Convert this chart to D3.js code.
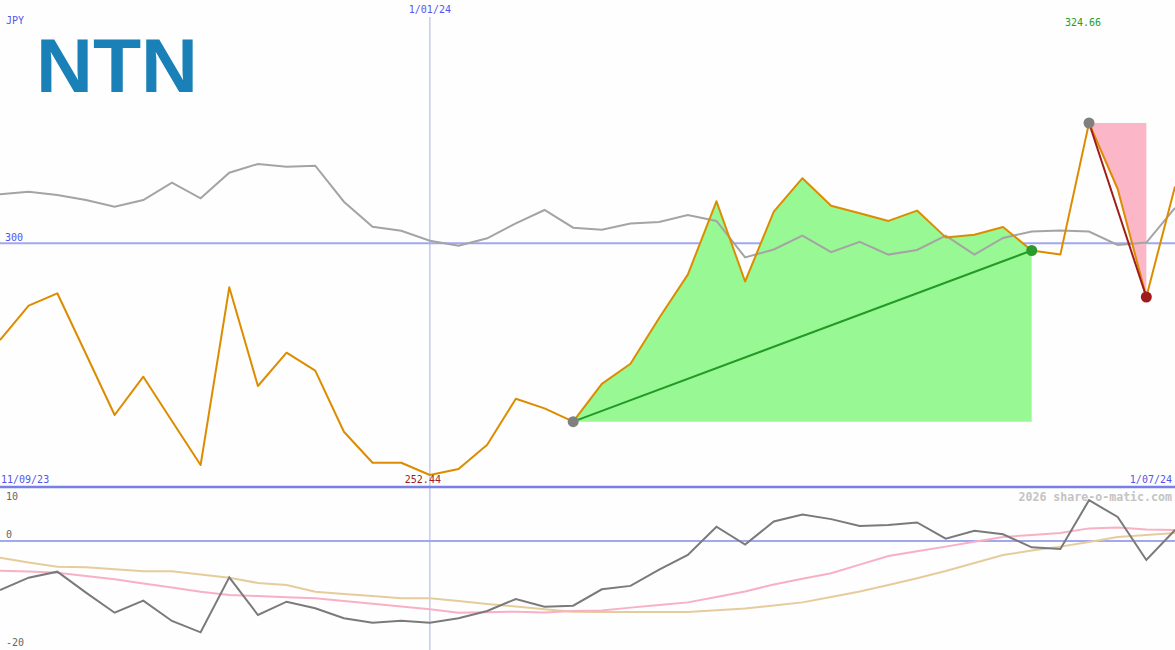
<!DOCTYPE html>
<html>
<head>
<meta charset="utf-8">
<script src="https://cdn.jsdelivr.net/npm/d3@7"></script>
<style>
  html, body { margin: 0; padding: 0; background: #fdfefd; }
  svg { display: block; }
  text { font-family: "DejaVu Sans Mono", "Liberation Mono", monospace; }
</style>
</head>
<body>
<svg id="chart" width="1175" height="650"></svg>
<script>
// ---- data ----
const dateLabels = ["11/09/23", "1/01/24", "1/07/24"];
const markerIndex = 15; // 1/01/24
const price = [280.14, 287.18, 289.72, 277.27, 264.75, 272.61, 263.52, 254.49, 290.95, 270.70,
  277.53, 273.84, 261.32, 254.96, 254.96, 252.44, 253.67, 258.66, 268.09, 266.12,
  263.38, 271.15, 275.26, 284.65, 293.56, 308.60, 292.14, 306.48, 313.33, 307.69,
  306.13, 304.57, 306.69, 301.19, 301.74, 303.32, 298.50, 297.66, 324.66, 311.12,
  288.96, 311.65];
const compare = [310.03, 310.56, 309.89, 308.86, 307.49, 308.86, 312.41, 309.21, 314.46, 316.25,
  315.69, 315.90, 308.51, 303.38, 302.56, 300.51, 299.49, 301.00, 304.08, 306.81,
  303.18, 302.75, 304.02, 304.35, 305.78, 304.57, 297.08, 298.71, 301.54, 298.15,
  300.27, 297.66, 298.60, 301.54, 297.66, 301.07, 302.38, 302.60, 302.38, 299.63,
  300.12, 307.22];
const osc = [-9.25, -6.92, -5.79, -9.75, -13.53, -11.26, -15.09, -17.23, -6.85, -13.96,
  -11.45, -12.70, -14.58, -15.42, -15.04, -15.42, -14.58, -13.21, -10.94, -12.40,
  -12.21, -9.11, -8.47, -5.42, -2.62, 2.70, -0.68, 3.68, 4.98, 4.13,
  2.83, 3.02, 3.49, 0.43, 1.92, 1.28, -1.19, -1.51, 7.70, 4.53,
  -3.58, 2.08];
const oscFast = [-5.60, -5.75, -5.98, -6.60, -7.23, -8.02, -8.79, -9.57, -10.19, -10.38,
  -10.60, -10.81, -11.32, -11.85, -12.36, -12.89, -13.53, -13.43, -13.34, -13.49,
  -13.20, -13.11, -12.57, -12.08, -11.58, -10.57, -9.51, -8.21, -7.13, -6.08,
  -4.45, -2.83, -1.94, -1.06, -0.15, 0.75, 1.13, 1.53, 2.38, 2.57,
  2.19, 2.08];
const oscSlow = [-3.15, -4.06, -4.87, -4.94, -5.32, -5.70, -5.70, -6.32, -6.94, -7.92,
  -8.30, -9.57, -10.00, -10.38, -10.81, -10.81, -11.32, -11.89, -12.36, -12.89,
  -13.34, -13.40, -13.40, -13.40, -13.40, -13.08, -12.75, -12.17, -11.58, -10.57,
  -9.51, -8.30, -7.04, -5.66, -4.15, -2.64, -1.79, -1.06, -0.19, 0.75,
  1.13, 1.51];
const priceRefLevel = 300;
const oscTicks = [10, 0, -20];
const riseRange = [20, 36];   // green highlighted rise
const fallRange = [38, 40];   // pink highlighted fall
const currency = "JPY";
const logoText = "NTN";
const watermark = "2026 share-o-matic.com";

// ---- scales ----
const W = 1175;
const svg = d3.select("#chart");
const x = d3.scaleLinear().domain([0, price.length - 1]).range([0, W]);
const pMin = d3.min(price), pMax = d3.max(price);
const y = d3.scaleLinear().domain([pMin, pMax]).range([475, 123]);
const yo = d3.scaleLinear().domain([10, -20]).range([488, 647]);

const blueText = "#5555ee";

svg.append("rect").attr("width", W).attr("height", 650).attr("fill", "#fdfefd");

// vertical date marker
svg.append("line").attr("x1", x(markerIndex)).attr("x2", x(markerIndex))
  .attr("y1", 17).attr("y2", 650).attr("stroke", "#a8b0e0").attr("stroke-width", 1);

// reference level line
svg.append("line").attr("x1", 0).attr("x2", W)
  .attr("y1", y(priceRefLevel)).attr("y2", y(priceRefLevel))
  .attr("stroke", "#a0a8f0").attr("stroke-width", 2);

// green rise area
const riseIdx = d3.range(riseRange[0], riseRange[1] + 1);
const baseVal = price[riseRange[0]];
const risePts = riseIdx.map(i => [x(i), y(price[i])])
  .concat([[x(riseRange[1]), y(baseVal)], [x(riseRange[0]), y(baseVal)]]);
svg.append("path").attr("d", d3.line()(risePts) + "Z").attr("fill", "#98f894");

// pink fall area
const fallIdx = d3.range(fallRange[0], fallRange[1] + 1);
const topVal = price[fallRange[0]];
const fallPts = fallIdx.map(i => [x(i), y(price[i])]).concat([[x(fallRange[1]), y(topVal)]]);
svg.append("path").attr("d", d3.line()(fallPts) + "Z").attr("fill", "#fbb6c8");

// comparison line
const line = d3.line().x((d, i) => x(i)).y(d => y(d));
svg.append("path").datum(compare).attr("d", line).attr("fill", "none")
  .attr("stroke", "#a4a4a4").attr("stroke-width", 2);

// trend lines
svg.append("line").attr("x1", x(riseRange[0])).attr("y1", y(price[riseRange[0]]))
  .attr("x2", x(riseRange[1])).attr("y2", y(price[riseRange[1]]))
  .attr("stroke", "#239a23").attr("stroke-width", 2);

// price line
svg.append("path").datum(price).attr("d", line).attr("fill", "none")
  .attr("stroke", "#dd8c00").attr("stroke-width", 2).attr("stroke-linejoin", "round");

svg.append("line").attr("x1", x(fallRange[0])).attr("y1", y(price[fallRange[0]]))
  .attr("x2", x(fallRange[1])).attr("y2", y(price[fallRange[1]]))
  .attr("stroke", "#a01c1c").attr("stroke-width", 2);

// dots
const dot = (i, c) => svg.append("circle").attr("cx", x(i)).attr("cy", y(price[i])).attr("r", 5.5).attr("fill", c);
dot(riseRange[0], "#808080");
dot(riseRange[1], "#2a9a2a");
dot(fallRange[0], "#808080");
dot(fallRange[1], "#a01c1c");

// separator
svg.append("line").attr("x1", 0).attr("x2", W).attr("y1", 487).attr("y2", 487)
  .attr("stroke", "#7880e8").attr("stroke-width", 2.5);

// lower panel
svg.append("line").attr("x1", 0).attr("x2", W).attr("y1", yo(0)).attr("y2", yo(0))
  .attr("stroke", "#a0a8f0").attr("stroke-width", 2);
const lo = d3.line().x((d, i) => x(i)).y(d => yo(d));
svg.append("path").datum(oscSlow).attr("d", lo).attr("fill", "none").attr("stroke", "#e6cc9c").attr("stroke-width", 2);
svg.append("path").datum(oscFast).attr("d", lo).attr("fill", "none").attr("stroke", "#f8b0c4").attr("stroke-width", 2);
svg.append("path").datum(osc).attr("d", lo).attr("fill", "none").attr("stroke", "#7a7a7a").attr("stroke-width", 2);

// texts
const txt = (s, tx, ty, col, anchor, size) => svg.append("text").text(s)
  .attr("x", tx).attr("y", ty).attr("fill", col).attr("font-size", size || 10)
  .attr("text-anchor", anchor || "start");

txt(currency, 6, 24, blueText);
txt(dateLabels[1], x(markerIndex), 13, blueText, "middle");
txt(d3.format(".2f")(pMax), x(price.indexOf(pMax)) - 6, 26, "#22a022", "middle");
txt(String(priceRefLevel), 5, y(priceRefLevel) - 2, blueText);
txt(dateLabels[0], 1, 483, blueText);
txt(d3.format(".2f")(pMin), x(price.indexOf(pMin)) - 7, 483, "#a01c1c", "middle");
txt(dateLabels[2], 1172, 483, blueText, "end");
txt(watermark, 1172, 500.5, "#c4c4c4", "end", 11.6).attr("font-weight", "bold");
txt(String(oscTicks[0]), 6, 500, "#666666");
txt(String(oscTicks[1]), 6, 538, "#666666");
txt(String(oscTicks[2]), 6, 646, "#666666");

// logo
svg.append("text").text(logoText).attr("x", 36).attr("y", 92)
  .attr("font-family", "'Liberation Sans', Arial, sans-serif").attr("font-weight", "bold")
  .attr("font-size", 76).attr("fill", "#1a80b8")
  .attr("textLength", 162).attr("lengthAdjust", "spacingAndGlyphs")
  .style("font-family", "'Liberation Sans', Arial, sans-serif");
</script>
</body>
</html>
